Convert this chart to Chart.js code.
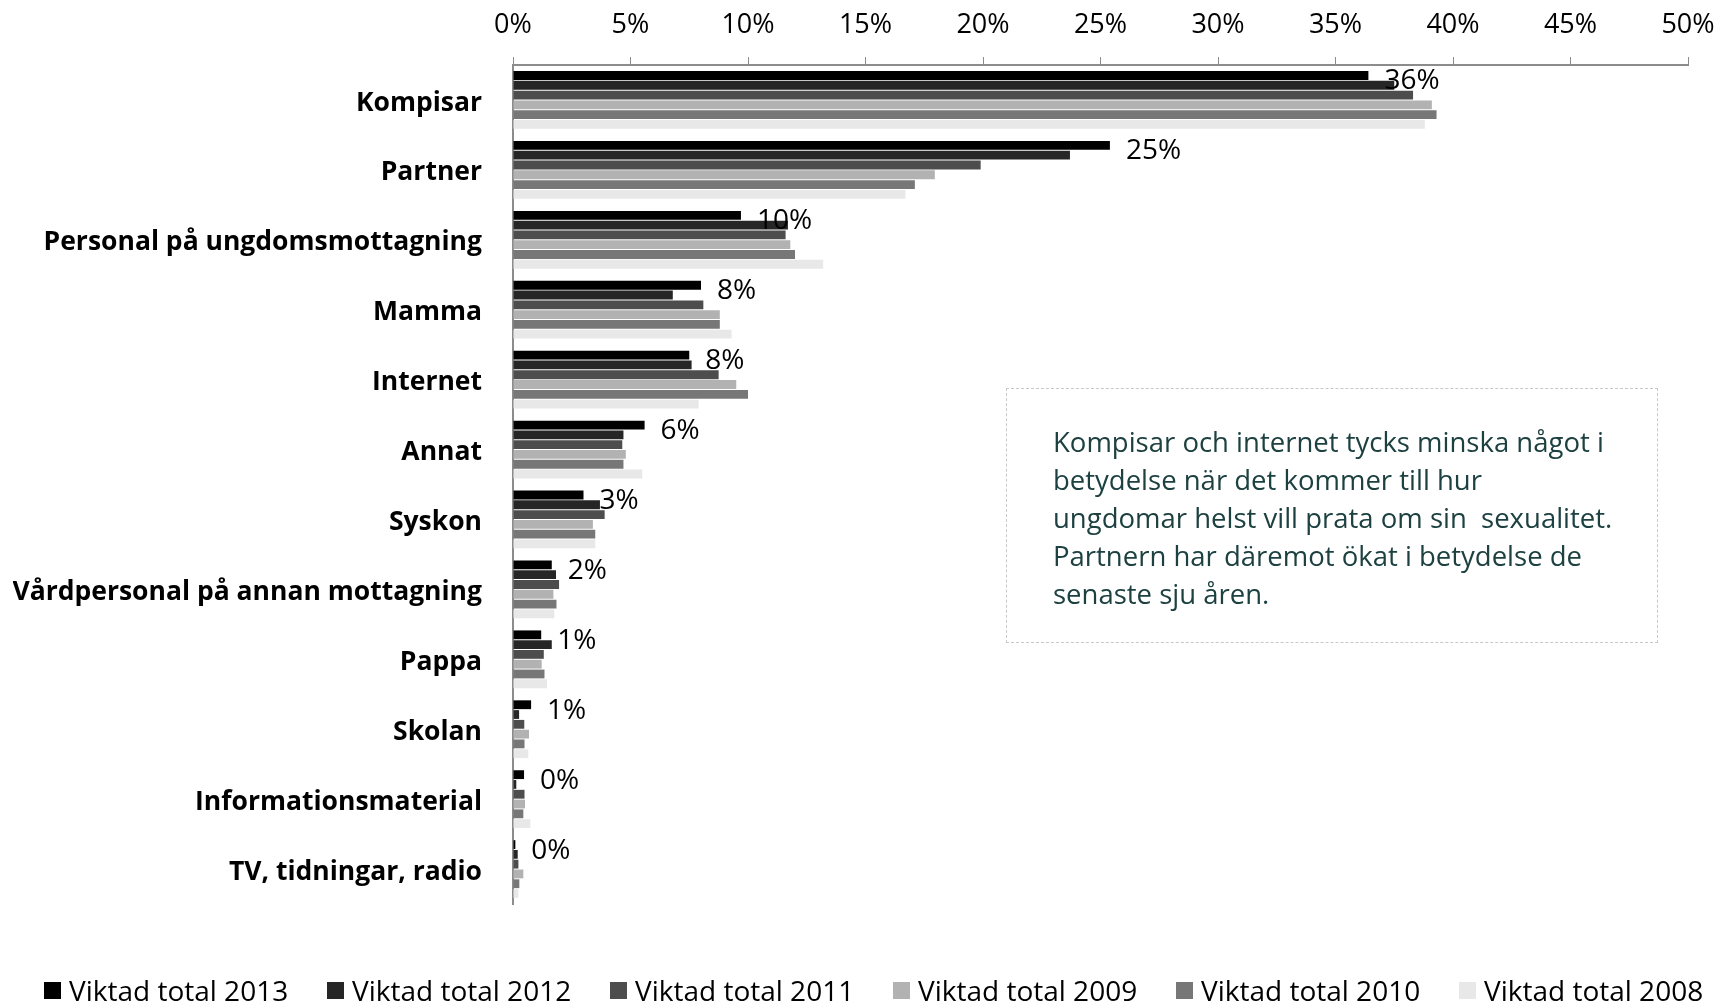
<!DOCTYPE html>
<html>
<head>
<meta charset="utf-8">
<script src="https://cdn.jsdelivr.net/npm/chart.js@4"></script>
<style>
  body { margin: 0; background: #fff; }
  #wrap { position: relative; width: 1719px; height: 1003px; font-family: "Open Sans", sans-serif; }
  #note {
    position: absolute; left: 1006px; top: 388px; width: 652px; height: 255px;
    box-sizing: border-box; border: 1.5px dashed #c8c8c8;
    padding: 34px 10px 0 46px;
    font-size: 27.5px; line-height: 38px; color: #1d4040; white-space: nowrap;
  }
  #legend { position: absolute; left: 44px; top: 972px; display: flex; }
  #legend .item { width: 283px; display: flex; align-items: center; font-size: 28px; color: #000; height: 36px; }
  #legend .box { width: 17px; height: 17px; margin-right: 8px; }
</style>
</head>
<body>
<div id="wrap">
  <canvas id="chart" width="1719" height="1003"></canvas>
  <div id="note">Kompisar och internet tycks minska något i<br>betydelse när det kommer till hur<br>ungdomar helst vill prata om sin&nbsp; sexualitet.<br>Partnern har däremot ökat i betydelse de<br>senaste sju åren.</div>
  <div id="legend"></div>
</div>
<script>
// ===== DATA =====
const categories = [
  "Kompisar", "Partner", "Personal på ungdomsmottagning", "Mamma", "Internet", "Annat",
  "Syskon", "Vårdpersonal på annan mottagning", "Pappa", "Skolan", "Informationsmaterial",
  "TV, tidningar, radio"
];
const seriesNames = ["Viktad total 2013", "Viktad total 2012", "Viktad total 2011",
  "Viktad total 2009", "Viktad total 2010", "Viktad total 2008"];
const v2013 = [36.4, 25.4, 9.7, 8.0, 7.5, 5.6, 3.0, 1.65, 1.2, 0.77, 0.47, 0.10];
const v2012 = [37.5, 23.7, 11.7, 6.8, 7.6, 4.7, 3.7, 1.83, 1.65, 0.26, 0.14, 0.20];
const v2011 = [38.3, 19.9, 11.6, 8.1, 8.75, 4.65, 3.9, 1.96, 1.31, 0.48, 0.49, 0.23];
const v2009 = [39.1, 17.95, 11.8, 8.8, 9.5, 4.8, 3.4, 1.72, 1.22, 0.68, 0.51, 0.44];
const v2010 = [39.3, 17.1, 12.0, 8.8, 10.0, 4.7, 3.5, 1.85, 1.34, 0.49, 0.44, 0.27];
const v2008 = [38.8, 16.7, 13.2, 9.3, 7.9, 5.5, 3.5, 1.76, 1.45, 0.65, 0.74, 0.23];
const xTicks = [0, 5, 10, 15, 20, 25, 30, 35, 40, 45, 50];

const allValues = [v2013, v2012, v2011, v2009, v2010, v2008];
const colors = ["#000000", "#262626", "#4d4d4d", "#b2b2b2", "#777777", "#e8e8e8"];
const FONT = "'Open Sans', sans-serif";

// legend (same order as the datasets)
document.getElementById("legend").innerHTML = seriesNames.map((name, i) =>
  `<div class="item"><span class="box" style="background:${colors[i]}"></span>${name}</div>`
).join("");

// value labels on the 2013 series
const valueLabels = {
  id: "valueLabels",
  afterDatasetsDraw(chart) {
    const ctx = chart.ctx;
    const meta = chart.getDatasetMeta(0);
    ctx.save();
    ctx.font = "28px " + FONT;
    ctx.fillStyle = "#000";
    ctx.textBaseline = "middle";
    ctx.textAlign = "left";
    meta.data.forEach((bar, i) => {
      ctx.fillText(Math.round(v2013[i]) + "%", bar.x + 16, bar.y + 6);
    });
    ctx.restore();
  }
};

new Chart(document.getElementById("chart"), {
  type: "bar",
  data: {
    labels: categories,
    datasets: seriesNames.map((name, i) => ({
      label: name,
      data: allValues[i],
      backgroundColor: colors[i],
      borderWidth: 0,
      barPercentage: 0.9,
      categoryPercentage: 0.84
    }))
  },
  options: {
    indexAxis: "y",
    responsive: false,
    animation: false,
    layout: { padding: { left: 13, right: 31, top: 0, bottom: 99 } },
    plugins: {
      legend: { display: false },
      tooltip: { enabled: false }
    },
    scales: {
      x: {
        position: "top",
        min: 0,
        max: 50,
        afterBuildTicks: s => { s.ticks = xTicks.map(v => ({ value: v })); },
        afterFit: s => { s.height = 65; s.paddingLeft = 0; s.paddingRight = 0; },
        grid: { display: true, drawOnChartArea: false, drawTicks: true, tickLength: 8, color: "#8c8c8c", lineWidth: 1 },
        border: { display: true, color: "#8c8c8c", width: 2 },
        ticks: {
          callback: v => v + "%",
          color: "#000",
          padding: 15,
          maxRotation: 0,
          font: { family: FONT, size: 27 }
        }
      },
      y: {
        afterFit: s => { s.width = 500; },
        grid: { display: false },
        border: { display: true, color: "#8c8c8c", width: 2 },
        ticks: {
          color: "#000",
          padding: 23,
          labelOffset: 3,
          font: { family: FONT, size: 26.5, weight: "bold" }
        }
      }
    }
  },
  plugins: [valueLabels]
});
</script>
</body>
</html>
